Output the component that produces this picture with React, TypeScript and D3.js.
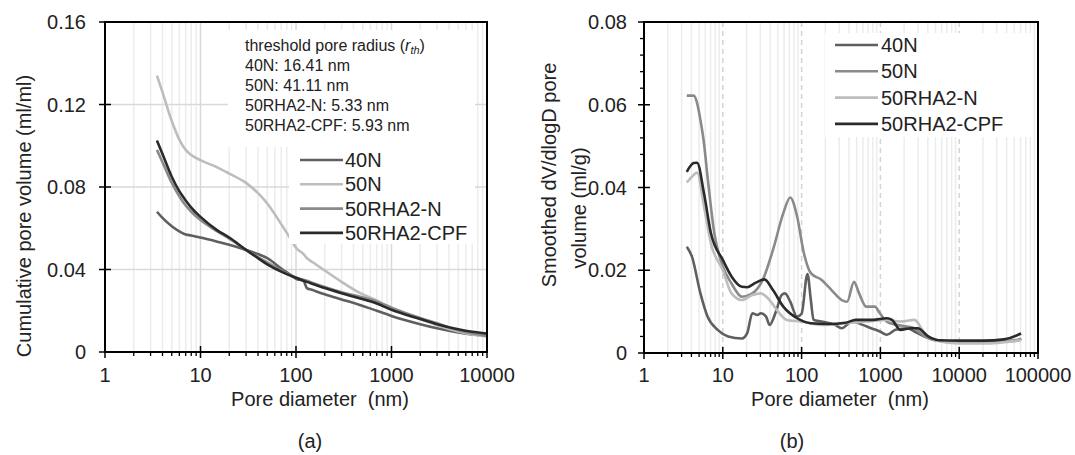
import React from "react";
import * as d3 from "d3";

// ---------- (a) cumulative pore volume ----------
const diamA = [3.5, 4, 5, 6, 7, 8, 10, 15, 20, 30, 40, 50, 70, 90, 100, 120, 130, 150, 200, 300, 450, 700, 1000, 2000, 3000, 5000, 7000, 10000];
const cum40N = [0.068, 0.065, 0.061, 0.0585, 0.057, 0.0565, 0.0555, 0.0535, 0.052, 0.0495, 0.0475, 0.0455, 0.0405, 0.037, 0.0355, 0.0345, 0.031, 0.030, 0.028, 0.0255, 0.023, 0.020, 0.0175, 0.0135, 0.0115, 0.0095, 0.0085, 0.008];
const cum50N = [0.134, 0.126, 0.112, 0.103, 0.098, 0.0955, 0.093, 0.0895, 0.0865, 0.082, 0.077, 0.072, 0.062, 0.054, 0.0505, 0.0475, 0.0455, 0.0435, 0.0395, 0.034, 0.029, 0.025, 0.021, 0.016, 0.013, 0.010, 0.0085, 0.0075];
const cumRHAN = [0.098, 0.092, 0.082, 0.0755, 0.071, 0.068, 0.064, 0.0585, 0.055, 0.0495, 0.046, 0.0435, 0.0395, 0.037, 0.036, 0.035, 0.0345, 0.0335, 0.0315, 0.029, 0.027, 0.0245, 0.0215, 0.0165, 0.014, 0.0105, 0.009, 0.0078];
const cumCPF = [0.1025, 0.096, 0.085, 0.078, 0.0735, 0.070, 0.0655, 0.059, 0.0555, 0.0495, 0.0455, 0.0425, 0.039, 0.0368, 0.036, 0.0345, 0.034, 0.033, 0.031, 0.0285, 0.0262, 0.0235, 0.0205, 0.016, 0.0135, 0.011, 0.0098, 0.009];
const yTicksA = [0, 0.04, 0.08, 0.12, 0.16];
const xTicksA = [1, 10, 100, 1000, 10000];
const thresholdLines = ["40N: 16.41 nm", "50N: 41.11 nm", "50RHA2-N: 5.33 nm", "50RHA2-CPF: 5.93 nm"];

// ---------- (b) smoothed dV/dlogD ----------
const d40N = [3.49, 4.06, 5.2, 6.4, 8.6, 11.7, 17.5, 20.4, 23.7, 27.5, 30.3, 35.4, 39.2, 48, 55.7, 61.6, 71.7, 87.7, 100, 118.6, 131, 142, 178, 265, 323, 437, 594, 763, 985, 1205, 1550, 2200, 2700, 3650, 4930, 10000, 20000, 55000, 61000];
const v40N = [0.0257, 0.0233, 0.0144, 0.0088, 0.0056, 0.0040, 0.0035, 0.0048, 0.0096, 0.0092, 0.0096, 0.0088, 0.0068, 0.0104, 0.014, 0.0144, 0.0124, 0.0088, 0.0095, 0.0191, 0.0128, 0.008, 0.0076, 0.0068, 0.006, 0.0076, 0.0068, 0.006, 0.0052, 0.0044, 0.0056, 0.006, 0.0052, 0.004, 0.0031, 0.0027, 0.0027, 0.003, 0.0035];
const d50N = [3.49, 4.27, 4.72, 5.2, 5.77, 6.4, 7.8, 10, 12.9, 17.5, 23.7, 32, 43.3, 58.6, 71.7, 87.7, 107, 131, 178, 240, 323, 378, 462, 537, 660, 850, 985, 1205, 1620, 2200, 2700, 3650, 4930, 10000, 20000, 61000];
const v50N = [0.0622, 0.0622, 0.0604, 0.0563, 0.0507, 0.0426, 0.029, 0.0209, 0.0168, 0.0136, 0.0144, 0.0176, 0.0249, 0.0338, 0.0376, 0.033, 0.0241, 0.0193, 0.0177, 0.0152, 0.0128, 0.0124, 0.0172, 0.0144, 0.0112, 0.0112, 0.0096, 0.0076, 0.0068, 0.0064, 0.006, 0.004, 0.0031, 0.0027, 0.0025, 0.0033];
const dRHAN = [3.49, 4.06, 4.72, 5.77, 7.06, 10, 12.9, 17.5, 23.7, 30.3, 39.2, 50.4, 64.7, 97, 178, 360, 660, 1205, 1800, 2700, 3650, 4930, 10000, 20000, 61000];
const vRHAN = [0.0412, 0.0426, 0.0436, 0.0354, 0.0265, 0.020, 0.0144, 0.0128, 0.014, 0.0144, 0.0128, 0.010, 0.008, 0.0076, 0.0068, 0.0072, 0.0076, 0.008, 0.0076, 0.008, 0.0048, 0.0031, 0.0023, 0.0023, 0.0031];
const dCPF = [3.49, 4.27, 4.72, 5.77, 7.06, 10, 12.9, 17.5, 20.4, 26.2, 33.7, 43.3, 58.6, 87.7, 131, 217, 360, 486, 805, 1205, 1400, 1800, 2440, 2990, 4040, 5460, 10000, 20000, 37000, 61000];
const vCPF = [0.0438, 0.0459, 0.046, 0.0386, 0.029, 0.0225, 0.0185, 0.016, 0.0159, 0.017, 0.0178, 0.0152, 0.0112, 0.0084, 0.0072, 0.007, 0.0073, 0.008, 0.008, 0.0084, 0.008, 0.0056, 0.006, 0.006, 0.004, 0.0031, 0.003, 0.003, 0.0033, 0.0047];
const yTicksB = [0, 0.02, 0.04, 0.06, 0.08];
const xTicksB = [1, 10, 100, 1000, 10000, 100000];

const seriesNames = ["40N", "50N", "50RHA2-N", "50RHA2-CPF"];
const colorsA = ["#5f5f5f", "#bdbdbd", "#8a8a8a", "#2a2a2a"];
const colorsB = ["#5f5f5f", "#8a8a8a", "#bdbdbd", "#2a2a2a"];

const FONT = "Arial, 'Liberation Sans', Helvetica, sans-serif";

function minorTicks(lo: number, hi: number) {
  const out: number[] = [];
  for (let p = lo; p < hi; p++) {
    for (let k = 2; k <= 9; k++) out.push(k * Math.pow(10, p));
  }
  return out;
}

function fmt(v: number) {
  return v === 0 ? "0" : v.toFixed(2);
}

export default function App() {
  // ---- panel (a) ----
  const xA = d3.scaleLog().domain([1, 10000]).range([105, 487]);
  const yA = d3.scaleLinear().domain([0, 0.16]).range([352, 22]);
  const lineA = d3
    .line<[number, number]>()
    .x((d) => xA(d[0]))
    .y((d) => yA(d[1]))
    .curve(d3.curveMonotoneX);
  const seriesA = [cum40N, cum50N, cumRHAN, cumCPF].map((vals) =>
    vals.map((v, i) => [diamA[i], v] as [number, number])
  );
  const minorA = minorTicks(0, 4);

  // ---- panel (b) ----
  const xB = d3.scaleLog().domain([1, 100000]).range([644, 1038]);
  const yB = d3.scaleLinear().domain([0, 0.08]).range([353, 22]);
  const lineB = d3
    .line<[number, number]>()
    .x((d) => xB(d[0]))
    .y((d) => yB(d[1]))
    .curve(d3.curveMonotoneX);
  const seriesB = [
    [d40N, v40N],
    [d50N, v50N],
    [dRHAN, vRHAN],
    [dCPF, vCPF],
  ].map(([ds, vs]) => ds.map((d, i) => [d, vs[i]] as [number, number]));
  const minorB = minorTicks(0, 5);
  const minorYB = d3.range(0, 0.0801, 0.004).filter((v) => Math.abs(v / 0.02 - Math.round(v / 0.02)) > 1e-6);

  return (
    <svg
      width={1075}
      height={455}
      style={{ position: "absolute", left: 0, top: 0, background: "#fff", fontFamily: FONT }}
    >
      <rect x={0} y={0} width={1075} height={455} fill="#fff" />

      {/* ================= PANEL A ================= */}
      {minorA.map((t) => (
        <line key={"ga" + t} x1={xA(t)} x2={xA(t)} y1={22} y2={352} stroke="#ececec" strokeWidth={1.5} />
      ))}
      {xTicksA.slice(1, -1).map((t) => (
        <line key={"gam" + t} x1={xA(t)} x2={xA(t)} y1={22} y2={352} stroke="#d9d9d9" strokeWidth={1.5} />
      ))}
      {yTicksA.slice(1, -1).map((t) => (
        <line key={"gay" + t} x1={105} x2={487} y1={yA(t)} y2={yA(t)} stroke="#d9d9d9" strokeWidth={1.5} />
      ))}
      {seriesA.map((s, i) => (
        <path key={"ca" + i} d={lineA(s) || ""} fill="none" stroke={colorsA[i]} strokeWidth={2.6} />
      ))}
      <rect x={228} y={30} width={247} height={117} fill="#fff" />
      <rect x={289} y={147} width={186} height={97} fill="#fff" />
      <text x={245} y={51} fontSize={16} fill="#222">
        threshold pore radius (
        <tspan fontStyle="italic">r</tspan>
        <tspan fontStyle="italic" fontSize={11} dy={3}>th</tspan>
        <tspan dy={-3}>)</tspan>
      </text>
      {thresholdLines.map((t, i) => (
        <text key={"th" + i} x={245} y={70.5 + i * 20} fontSize={16} fill="#222">
          {t}
        </text>
      ))}
      {seriesNames.map((n, i) => (
        <g key={"la" + i}>
          <line x1={300} x2={343} y1={160 + i * 24.3} y2={160 + i * 24.3} stroke={colorsA[i]} strokeWidth={2.6} />
          <text x={345} y={160 + i * 24.3 + 7} fontSize={20} fill="#222">
            {n}
          </text>
        </g>
      ))}
      <rect x={105} y={22} width={382} height={330} fill="none" stroke="#000" strokeWidth={2} />
      {xTicksA.map((t) => (
        <g key={"xta" + t}>
          <line x1={xA(t)} x2={xA(t)} y1={346} y2={358} stroke="#000" strokeWidth={1.5} />
          <text x={xA(t)} y={382} fontSize={20} textAnchor="middle" fill="#222">
            {t}
          </text>
        </g>
      ))}
      {minorA.map((t) => (
        <line key={"mta" + t} x1={xA(t)} x2={xA(t)} y1={352} y2={356} stroke="#000" strokeWidth={1.3} />
      ))}
      {yTicksA.map((t) => (
        <g key={"yta" + t}>
          <line x1={99} x2={111} y1={yA(t)} y2={yA(t)} stroke="#000" strokeWidth={1.5} />
          <text x={86} y={yA(t) + 7} fontSize={20} textAnchor="end" fill="#222">
            {fmt(t)}
          </text>
        </g>
      ))}
      <text transform="translate(31,216) rotate(-90)" fontSize={20} textAnchor="middle" fill="#222">
        Cumulative pore volume (ml/ml)
      </text>
      <text x={320} y={406} fontSize={20} textAnchor="middle" fill="#222" style={{ whiteSpace: "pre" }}>
        {"Pore diameter  (nm)"}
      </text>
      <text x={310} y={448} fontSize={20} textAnchor="middle" fill="#222">
        (a)
      </text>

      {/* ================= PANEL B ================= */}
      {minorB.map((t) => (
        <line key={"gb" + t} x1={xB(t)} x2={xB(t)} y1={22} y2={353} stroke="#ececec" strokeWidth={1.5} />
      ))}
      {xTicksB.slice(1, -1).map((t) => (
        <line
          key={"gbm" + t}
          x1={xB(t)}
          x2={xB(t)}
          y1={22}
          y2={353}
          stroke="#d4d4d4"
          strokeWidth={1.5}
          strokeDasharray="5,4"
        />
      ))}
      {seriesB.map((s, i) => (
        <path key={"cb" + i} d={lineB(s) || ""} fill="none" stroke={colorsB[i]} strokeWidth={2.6} />
      ))}
      <rect x={825} y={33} width={208} height={104} fill="#fff" />
      {seriesNames.map((n, i) => (
        <g key={"lb" + i}>
          <line x1={835} x2={878} y1={45 + i * 26.3} y2={45 + i * 26.3} stroke={colorsB[i]} strokeWidth={2.6} />
          <text x={881} y={45 + i * 26.3 + 7} fontSize={20} fill="#222">
            {n}
          </text>
        </g>
      ))}
      <rect x={644} y={22} width={394} height={331} fill="none" stroke="#000" strokeWidth={2} />
      {xTicksB.map((t) => (
        <g key={"xtb" + t}>
          <line x1={xB(t)} x2={xB(t)} y1={347} y2={359} stroke="#000" strokeWidth={1.5} />
          <text x={xB(t)} y={382} fontSize={20} textAnchor="middle" fill="#222">
            {t}
          </text>
        </g>
      ))}
      {minorB.map((t) => (
        <line key={"mtb" + t} x1={xB(t)} x2={xB(t)} y1={353} y2={357} stroke="#000" strokeWidth={1.3} />
      ))}
      {yTicksB.map((t) => (
        <g key={"ytb" + t}>
          <line x1={638} x2={650} y1={yB(t)} y2={yB(t)} stroke="#000" strokeWidth={1.5} />
          <text x={627} y={yB(t) + 7} fontSize={20} textAnchor="end" fill="#222">
            {fmt(t)}
          </text>
        </g>
      ))}
      {minorYB.map((t, i) => (
        <line key={"myb" + i} x1={640} x2={644} y1={yB(t)} y2={yB(t)} stroke="#000" strokeWidth={1.3} />
      ))}
      <text transform="translate(556,175) rotate(-90)" fontSize={20} textAnchor="middle" fill="#222">
        Smoothed dV/dlogD pore
      </text>
      <text transform="translate(586,208) rotate(-90)" fontSize={20} textAnchor="middle" fill="#222">
        volume (ml/g)
      </text>
      <text x={840} y={406} fontSize={20} textAnchor="middle" fill="#222" style={{ whiteSpace: "pre" }}>
        {"Pore diameter  (nm)"}
      </text>
      <text x={792} y={448} fontSize={20} textAnchor="middle" fill="#222">
        (b)
      </text>
    </svg>
  );
}
